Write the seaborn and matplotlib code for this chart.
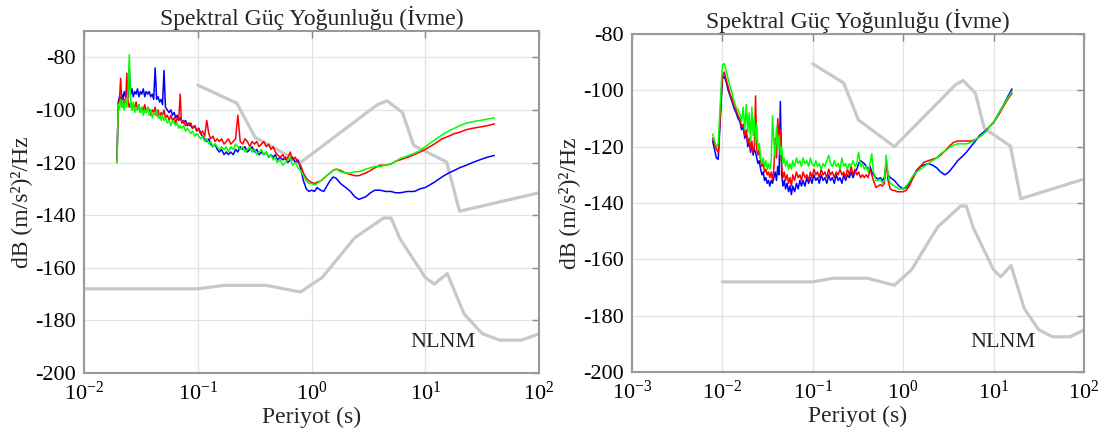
import matplotlib
matplotlib.use("Agg")
import matplotlib.pyplot as plt
import seaborn as sns

# Peterson gurultu modelleri (ivme, dB)
NHNM_PER = [0.1, 0.22, 0.32, 0.8, 3.8, 4.6, 6.3, 7.9, 15.4, 20, 100]
NHNM_DB = [-90.6, -97.4, -110.5, -120.0, -98.0, -96.5, -101.0, -113.5, -119.8, -138.5, -131.5]
NLNM_PER = [0.01, 0.1, 0.17, 0.4, 0.8, 1.24, 2.4, 4.3, 5.0, 6.0, 10, 12, 15.6, 21.9, 31.6, 45, 70, 100]
NLNM_DB = [-168.0, -168.0, -166.7, -166.7, -169.2, -163.7, -148.6, -141.1, -141.1, -149.0,
           -163.7, -166.2, -162.2, -177.5, -185.0, -187.5, -187.5, -185.1]

# Sol panel - periyot (s)
L_PER = [0.0195, 0.0200, 0.0205, 0.0210, 0.0215, 0.0220, 0.0226, 0.0232, 0.0238, 0.0244,
         0.0250, 0.0257, 0.0264, 0.0271, 0.0279, 0.0287, 0.0295, 0.0304, 0.0313, 0.0322,
         0.0332, 0.0342, 0.0352, 0.0363, 0.0374, 0.0386, 0.0398, 0.0410, 0.0422, 0.0435,
         0.0448, 0.0462, 0.0476, 0.0490, 0.0505, 0.052, 0.054, 0.056, 0.058, 0.060,
         0.062, 0.064, 0.066, 0.068, 0.070, 0.072, 0.075, 0.078, 0.081, 0.084,
         0.087, 0.090, 0.094, 0.098, 0.102, 0.106, 0.110, 0.115, 0.120, 0.125,
         0.130, 0.136, 0.142, 0.148, 0.155, 0.162, 0.170, 0.178, 0.186, 0.195,
         0.205, 0.215, 0.225, 0.236, 0.248, 0.260, 0.273, 0.287, 0.300, 0.315,
         0.330, 0.346, 0.363, 0.380, 0.40, 0.42, 0.44, 0.46, 0.48, 0.50,
         0.53, 0.56, 0.59, 0.62, 0.65, 0.68, 0.72, 0.76, 0.80, 0.85,
         0.90, 0.95, 1.0, 1.06, 1.12, 1.2, 1.28, 1.36, 1.45, 1.55,
         1.65, 1.8, 2.0, 2.2, 2.4, 2.6, 2.8, 3.0, 3.3, 3.6,
         4.0, 4.5, 5.0, 5.5, 6.0, 7.0, 8.0, 9.0, 10, 12,
         14, 16, 18, 20, 23, 26, 30, 35, 40.5]

L_RED = [-120, -98, -96, -88, -97, -99, -96, -98, -86, -97,
         -99, -97, -100, -98, -99, -97, -100, -98, -101, -99,
         -100, -98, -101, -99, -100, -102, -100, -101, -99, -102,
         -100, -103, -101, -102, -100, -103, -102, -104, -102, -104,
         -103, -105, -103, -104, -94, -105, -104, -106, -105, -106,
         -105, -107, -106, -108, -107, -109, -108, -110, -104, -109,
         -111, -110, -112, -111, -112, -111, -113, -112, -111, -113,
         -112, -111, -102, -112, -113, -111, -112, -114, -112, -113,
         -112, -114, -113, -112, -114, -113, -115, -114, -116, -117,
         -118, -117, -119, -118, -116, -119, -118, -120, -121, -124,
         -126, -127, -127.5, -128, -127.5, -127, -126, -125, -124, -123,
         -122.5, -123, -124, -124.5, -125, -125, -124.5, -124, -123, -122,
         -121, -121, -120.5, -119.5, -119, -118, -117, -116, -115, -113,
         -111, -110, -109, -108.5, -107.5, -107, -106.5, -106, -105.3]

L_BLUE = [-118, -97, -95, -97, -94, -96, -93, -95, -92, -95,
          -84, -94, -92, -95, -93, -94, -92, -95, -93, -94,
          -92, -95, -93, -94, -93, -95, -94, -96, -84, -96,
          -95, -97, -96, -98, -85, -99, -100, -101, -100, -102,
          -101, -103, -102, -104, -103, -104, -105, -104, -106, -105,
          -106, -107, -106, -108, -107, -109, -110, -111, -112, -111,
          -113, -114, -113, -115, -116, -115, -117, -116, -117, -116,
          -117, -115, -116, -114, -115, -114, -116, -115, -114, -116,
          -115, -117, -116, -117, -116, -118, -117, -118, -117, -119,
          -118, -119, -118, -120, -119, -118, -120, -119, -122, -127,
          -130, -131, -130.5, -131, -129.5, -130.5, -131, -129, -127, -125.5,
          -126, -128, -129.5, -131, -133, -134, -133.5, -133, -131.5, -130.5,
          -130.5, -131, -131, -131.5, -131.5, -131, -131, -130, -129.5, -127.5,
          -125.5, -124, -123, -122, -121, -120, -119, -118, -117.3]

L_GREEN = [-120, -98, -100, -96, -99, -97, -100, -96, -99, -93,
           -79, -98, -100, -97, -101, -99, -100, -98, -101, -99,
           -102, -100, -101, -99, -102, -100, -103, -101, -102, -100,
           -103, -102, -104, -102, -104, -103, -105, -104, -106, -104,
           -105, -106, -105, -107, -106, -107, -106, -108, -107, -108,
           -109, -108, -110, -109, -110, -111, -110, -112, -111, -113,
           -112, -114, -113, -114, -115, -114, -115, -114, -116, -114,
           -115, -113, -114, -115, -114, -116, -115, -114, -116, -115,
           -117, -116, -115, -117, -116, -118, -117, -119, -118, -120,
           -119, -121, -120, -119, -118, -121, -120, -122, -123, -125,
           -127, -128, -128, -128.5, -128, -127, -126, -125, -124, -123,
           -122.5, -123.5, -124, -124, -123.5, -123.5, -123, -122.5, -122, -121.5,
           -121.5, -121, -120.5, -119.5, -118.5, -117.5, -116.5, -115.5, -114, -111.5,
           -109.5, -108, -107, -106, -105, -104.5, -104, -103.5, -103]

# Sag panel - periyot (s)
R_PER = [0.0078, 0.0082, 0.0086, 0.0090, 0.0095, 0.0100, 0.0105, 0.0110, 0.0116, 0.0122,
         0.0128, 0.0135, 0.0142, 0.0149, 0.0156, 0.0163, 0.0170, 0.0177, 0.0184, 0.0191,
         0.0198, 0.0205, 0.0212, 0.0219, 0.0226, 0.0233, 0.0240, 0.0248, 0.0256, 0.0265,
         0.0274, 0.0283, 0.0293, 0.0303, 0.0313, 0.0324, 0.0335, 0.0347, 0.0359, 0.0371,
         0.0384, 0.0397, 0.0410, 0.0424, 0.0438, 0.0453, 0.0468, 0.0484, 0.050, 0.052,
         0.054, 0.056, 0.058, 0.060, 0.063, 0.066, 0.069, 0.072, 0.075, 0.078,
         0.082, 0.086, 0.090, 0.094, 0.098, 0.103, 0.108, 0.113, 0.118, 0.124,
         0.130, 0.136, 0.143, 0.150, 0.157, 0.165, 0.173, 0.182, 0.191, 0.200,
         0.210, 0.220, 0.231, 0.242, 0.254, 0.266, 0.279, 0.293, 0.307, 0.322,
         0.338, 0.355, 0.372, 0.390, 0.41, 0.43, 0.45, 0.47, 0.50, 0.53,
         0.56, 0.59, 0.62, 0.65, 0.68, 0.72, 0.76, 0.80, 0.85, 0.90,
         0.95, 1.0, 1.08, 1.17, 1.27, 1.4, 1.55, 1.7, 1.9, 2.1,
         2.35, 2.6, 2.9, 3.2, 3.6, 4.0, 4.5, 5.0, 5.6, 6.3,
         7.0, 8.0, 9.0, 10.0, 11.5, 13.0, 14.5, 16.0]

R_RED = [-117, -119, -121, -122, -108, -95, -93.5, -96, -99, -101.5,
         -103, -105.5, -107, -109, -110, -113, -112, -116, -114, -119,
         -117, -121, -118, -122, -120, -102, -121, -123, -121, -125,
         -127, -126, -129, -128, -130, -129, -131, -129, -132, -128,
         -117, -124, -110, -119, -114, -127, -131, -129, -132, -130,
         -133, -131, -134, -130, -132, -129, -131, -130, -132, -129,
         -131, -130, -132, -129, -131, -128, -130, -129, -131, -128,
         -130, -129, -131, -128, -130, -129, -131, -129, -130, -128,
         -130, -129, -131, -128, -130, -127, -130, -128, -130, -129,
         -131, -130, -131, -130, -131, -128, -130, -132, -134.5, -134,
         -133.5, -134, -133, -125, -132, -135, -135.5, -135.5, -136, -136,
         -136, -136, -135.5, -134, -131.5, -129, -127, -125.5, -125, -124.5,
         -124, -123, -121.5, -120, -118.5, -118, -118, -118, -118, -117.5,
         -116.5, -115, -113, -111.3, -108.5, -105.5, -103, -101]

R_BLUE = [-118, -121, -124, -124.5, -110, -96, -95, -97, -100, -102,
          -104, -106.5, -108, -110, -111, -114, -113, -117, -115, -120,
          -118, -122, -119, -123, -121, -122, -124, -126, -125, -128,
          -130, -129, -132, -131, -133, -132, -134, -132, -133, -131,
          -129, -132, -127, -130, -104, -130, -134, -132, -135, -133,
          -136, -134, -137, -134, -136, -133, -135, -132, -134, -132,
          -134, -131, -133, -131, -133, -130, -132, -131, -133, -130,
          -132, -131, -133, -130, -132, -131, -133, -130, -132, -131,
          -133, -130, -132, -130, -131, -129, -131, -129, -128, -126,
          -125, -125.5, -126, -127, -128, -127, -129, -130, -131, -131.5,
          -131, -132, -131, -126, -130, -131, -131.5, -132, -133, -134,
          -134.5, -135, -134.5, -133, -131, -128.5, -127, -126.5, -126, -126.5,
          -127.5, -129, -130, -129, -127, -125, -123.5, -122, -120, -118,
          -116, -114.5, -113, -111.5, -108, -105, -102, -99.5]

R_GREEN = [-115.5, -118, -120, -119, -104, -91, -90.5, -93, -96, -99,
           -101, -104, -106, -107, -108.5, -111, -106, -114, -105, -115,
           -108, -118, -106, -116, -110, -119, -112, -121, -119, -124,
           -126, -124, -127, -125, -128, -126, -128, -125, -109, -118,
           -124, -113, -121, -116, -123, -120, -126, -124, -127, -125,
           -128, -126, -128, -125, -127, -124, -126, -125, -127, -124,
           -126, -125, -127, -124, -126, -127, -125, -127, -126, -128,
           -126, -127, -125, -123, -126, -127, -125, -127, -126, -128,
           -124, -127, -126, -128, -126, -127, -125, -127, -126, -122,
           -127, -126, -128, -127, -129, -126, -122.5, -129, -132, -132,
           -131.5, -133, -132, -123, -130, -133, -133.5, -134, -134.5, -135,
           -135, -135, -134, -132.5, -130.5, -129, -128, -127, -126, -125,
           -124, -122.5, -121.5, -120.5, -119.5, -119, -119, -119, -118.5, -117.5,
           -116.5, -115, -113, -111.3, -108, -105, -102.5, -100.3]

sns.set_style("whitegrid")
plt.rcParams['font.family'] = ['Liberation Serif', 'DejaVu Serif']
plt.rcParams['mathtext.fontset'] = 'custom'
plt.rcParams['mathtext.rm'] = 'Liberation Serif'
plt.rcParams['axes.unicode_minus'] = False

fig = plt.figure(figsize=(11.01, 4.41), dpi=100)
ax1 = fig.add_axes([0.0763, 0.1542, 0.4133, 0.7755])
ax2 = fig.add_axes([0.5740, 0.1565, 0.4105, 0.7664])

panels = [
    (ax1, L_PER, L_RED, L_BLUE, L_GREEN, (1e-2, 1e2), (-200, -70),
     [1e-2, 1e-1, 1, 10, 100], (14.3, -188.5)),
    (ax2, R_PER, R_RED, R_BLUE, R_GREEN, (1e-3, 1e2), (-200, -80),
     [1e-3, 1e-2, 1e-1, 1, 10, 100], (12.7, -189.5)),
]

for ax, per, red, blue, green, xl, yl, xt, txt in panels:
    gray = '#c8c8c8'
    sns.lineplot(x=NHNM_PER, y=NHNM_DB, color=gray, lw=2.3, ax=ax, sort=False, estimator=None)
    sns.lineplot(x=NLNM_PER, y=NLNM_DB, color=gray, lw=2.3, ax=ax, sort=False, estimator=None)
    sns.lineplot(x=per, y=blue, color=(0, 0, 1), lw=1.1, ax=ax, sort=False, estimator=None)
    sns.lineplot(x=per, y=red, color=(1, 0, 0), lw=1.1, ax=ax, sort=False, estimator=None)
    sns.lineplot(x=per, y=green, color=(0, 1, 0), lw=1.1, ax=ax, sort=False, estimator=None)

    ax.set_xscale('log')
    ax.set_xlim(*xl)
    ax.set_ylim(*yl)
    ax.set_xticks(xt)
    ax.set_yticks(range(-200, -79, 20))
    ax.minorticks_off()
    ax.grid(True, color='#e2e2e2', lw=0.9)
    ax.tick_params(direction='in', length=5, width=1, color='#888888',
                   top=True, right=True, labelsize=16, pad=6, labelcolor='black')
    for sp in ax.spines.values():
        sp.set_color('#999999')
        sp.set_linewidth(1.5)
    ax.set_title('Spektral Güç Yoğunluğu (İvme)', fontsize=17, pad=4)
    ax.set_xlabel('Periyot (s)', fontsize=17, labelpad=2)
    ax.set_ylabel('dB (m/s²)²/Hz', fontsize=17, labelpad=2)
    ax.text(txt[0], txt[1], 'NLNM', fontsize=16, ha='center', va='center')

plt.savefig('out.png', dpi=100)
